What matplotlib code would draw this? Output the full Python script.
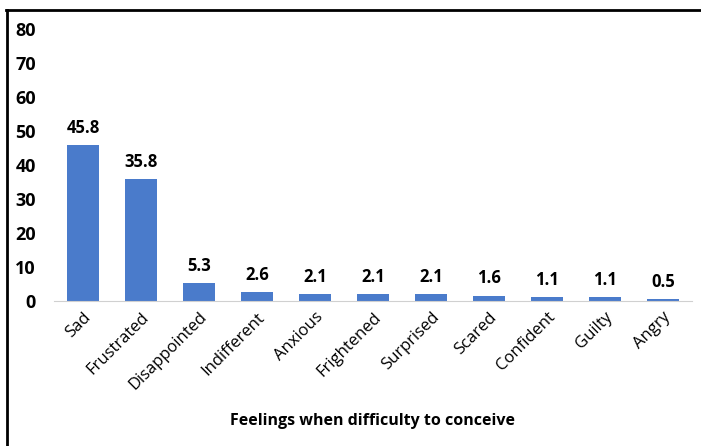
import matplotlib.pyplot as plt
from matplotlib.lines import Line2D

feelings = ["Sad", "Frustrated", "Disappointed", "Indifferent", "Anxious",
            "Frightened", "Surprised", "Scared", "Confident", "Guilty", "Angry"]
percent = [45.8, 35.8, 5.3, 2.6, 2.1, 2.1, 2.1, 1.6, 1.1, 1.1, 0.5]
y_ticks = [0, 10, 20, 30, 40, 50, 60, 70, 80]

plt.rcParams['font.family'] = ['Open Sans', 'DejaVu Sans']

fig = plt.figure(figsize=(7.01, 4.46), dpi=100)
ax = fig.add_axes([54 / 701, 1 - 301 / 446, 638 / 701, (301 - 29) / 446])

x = range(len(feelings))
bars = ax.bar(x, percent, width=0.54, color='#4A7BCB')

for b, v in zip(bars, percent):
    ax.text(b.get_x() + b.get_width() / 2, v + 2.4, f"{v}",
            ha='center', va='bottom', fontsize=12, fontweight='bold')

ax.set_xlim(-0.5, len(feelings) - 0.5)
ax.set_ylim(0, 80)
ax.set_yticks(y_ticks)
ax.set_yticklabels([str(t) for t in y_ticks], fontsize=13, fontweight='bold')
ax.set_xticks(list(x))
ax.set_xticklabels(feelings, rotation=45, ha='right', rotation_mode='anchor',
                   fontsize=12)
ax.tick_params(axis='both', length=0)
ax.tick_params(axis='y', pad=13)
ax.tick_params(axis='x', pad=6)

for s in ['top', 'right', 'left']:
    ax.spines[s].set_visible(False)
ax.spines['bottom'].set_color('#D0D0D0')

ax.set_xlabel("Feelings when difficulty to conceive", fontsize=11.5,
              fontweight='bold', labelpad=14)

# outer frame: only top and left edges show
fig.add_artist(Line2D([6 / 701, 1], [1 - 9.5 / 446] * 2, color='black', lw=2))
fig.add_artist(Line2D([6.5 / 701] * 2, [0, 1 - 9.5 / 446], color='black', lw=2))

fig.savefig("out.png", dpi=100)
